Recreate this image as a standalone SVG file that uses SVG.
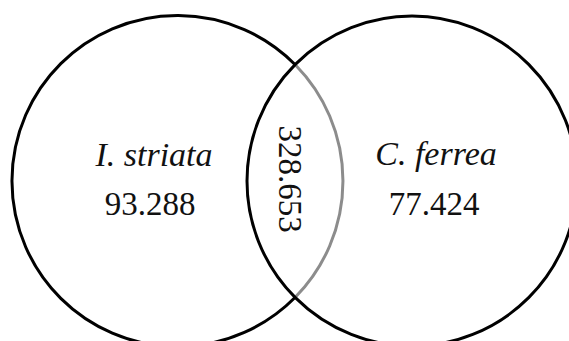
<svg xmlns="http://www.w3.org/2000/svg" width="569" height="341" viewBox="0 0 569 341">
<style>
.ring{fill:none;stroke:#000;stroke-width:3}
.inner{fill:none;stroke:#8c8c8c;stroke-width:3}
.lbl{font-family:"Liberation Serif","Times New Roman",serif;font-size:34px;font-style:italic;fill:#111;text-anchor:middle}
.num{font-family:"Liberation Serif","Times New Roman",serif;font-size:33px;fill:#111;text-anchor:middle}
</style>
<rect width="569" height="341" fill="#fff"/>
<g id="set-striata">
<path class="ring" d="M295.5,65 A165.5,165.5 0 1 0 295.5,297"/>
<path class="inner" d="M295.5,65 A165.5,165.5 0 0 1 295.5,297"/>
<text class="lbl" x="154" y="166">I. striata</text>
<text class="num" x="150" y="215">93.288</text>
</g>
<g id="set-ferrea">
<circle class="ring" cx="412" cy="181" r="165"/>
<text class="lbl" x="436" y="165">C. ferrea</text>
<text class="num" x="434" y="215">77.424</text>
</g>
<g id="overlap">
<text class="num" transform="translate(278.5,179) rotate(90)" x="0" y="0">328.653</text>
</g>
<g id="connectors"></g>
</svg>
